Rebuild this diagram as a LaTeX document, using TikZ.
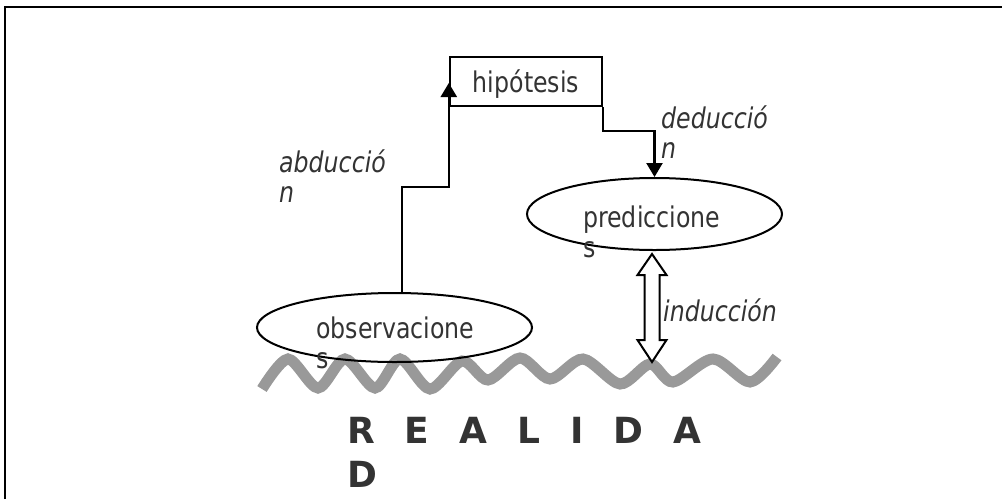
\documentclass[tikz,border=0pt]{standalone}
\usepackage{fontspec}
\setmainfont{DejaVu Sans}
\newfontfamily\tallfont[FakeStretch=0.83]{DejaVu Sans}
\usepackage{xcolor}
\usetikzlibrary{arrows.meta,positioning,calc,shapes.geometric}
\definecolor{txtGray}{HTML}{333333}
\definecolor{waveGray}{HTML}{999999}

\begin{document}
\begin{tikzpicture}[x=1pt, y=-1pt,
  font=\tallfont\fontsize{28.5}{30}\selectfont,
  txt/.style={anchor=base west, inner sep=0pt, align=left, text=txtGray},
  step name/.style={txt, font=\tallfont\fontsize{28.5}{30}\selectfont\itshape},
  oval/.style={draw, ellipse, line width=2pt, inner sep=0pt},
  hypbox/.style={draw, line width=2.4pt, minimum width=152pt, minimum height=49pt, inner sep=0pt, text depth=0pt, text=txtGray},
  arr/.style={line width=2.4pt, -{Triangle[length=14pt,width=16pt]}},
  blockarr/.style={draw, fill=white, line width=2pt, line join=miter}]
\useasboundingbox (0,0) rectangle (1002,499);
% frame
\draw[line width=2pt] (5,499) -- (5,7) -- (1002,7);
% reality line
\draw[waveGray, line width=11pt] plot[smooth, tension=0.5] coordinates {
  (262,389) (288,359) (318,388) (345,359) (375,388) (400,359) (430,389) (462,361)
  (488,380) (520,358) (550,379) (583,359) (620,384) (650,364) (673,382) (713,359)
  (750,382) (777,357)};
% nodes
\node[hypbox] (hyp) at (526,81.5) {hipótesis};
\node[oval, minimum width=255pt, minimum height=72pt] (pred) at (654.5,214) {};
\node[oval, minimum width=275pt, minimum height=69pt] (obs) at (394.5,327.5) {};
\node[txt] (predtxt) at (583,257) {prediccione\\s};
\node[txt] (obstxt) at (316,368) {observacione\\s};
% inference steps
\coordinate (ab1) at (402,187);
\draw[arr] (obs.north -| ab1) -- (ab1) -| ($(hyp.west)+(0,1.5)$);
\node[step name] (abd) at (279,202) {abducció\\n};
\draw[arr] (hyp.south east) -- ++(0,24) -| (pred.north);
\node[step name] (ded) at (661,158) {deducció\\n};
\coordinate (ind1) at (652,254);
\coordinate (ind2) at (652,362);
\draw[blockarr] (ind1) -- ++(14.5,21) -- ++(-7,0) -- ++(0,65) -- ++(7,0) -- (ind2)
  -- ++(-14.5,-22) -- ++(7,0) -- ++(0,-65) -- ++(-7,0) -- cycle;
\node[step name] (indtxt) at (663,321) {inducción};
% reality
\node[txt, font=\fontsize{36}{44}\selectfont\bfseries] (real) at (347,487)
  {R\hspace{30pt}E\hspace{30pt}A\hspace{30pt}L\hspace{30pt}I\hspace{30pt}D\hspace{30pt}A\\D};
\end{tikzpicture}
\end{document}
